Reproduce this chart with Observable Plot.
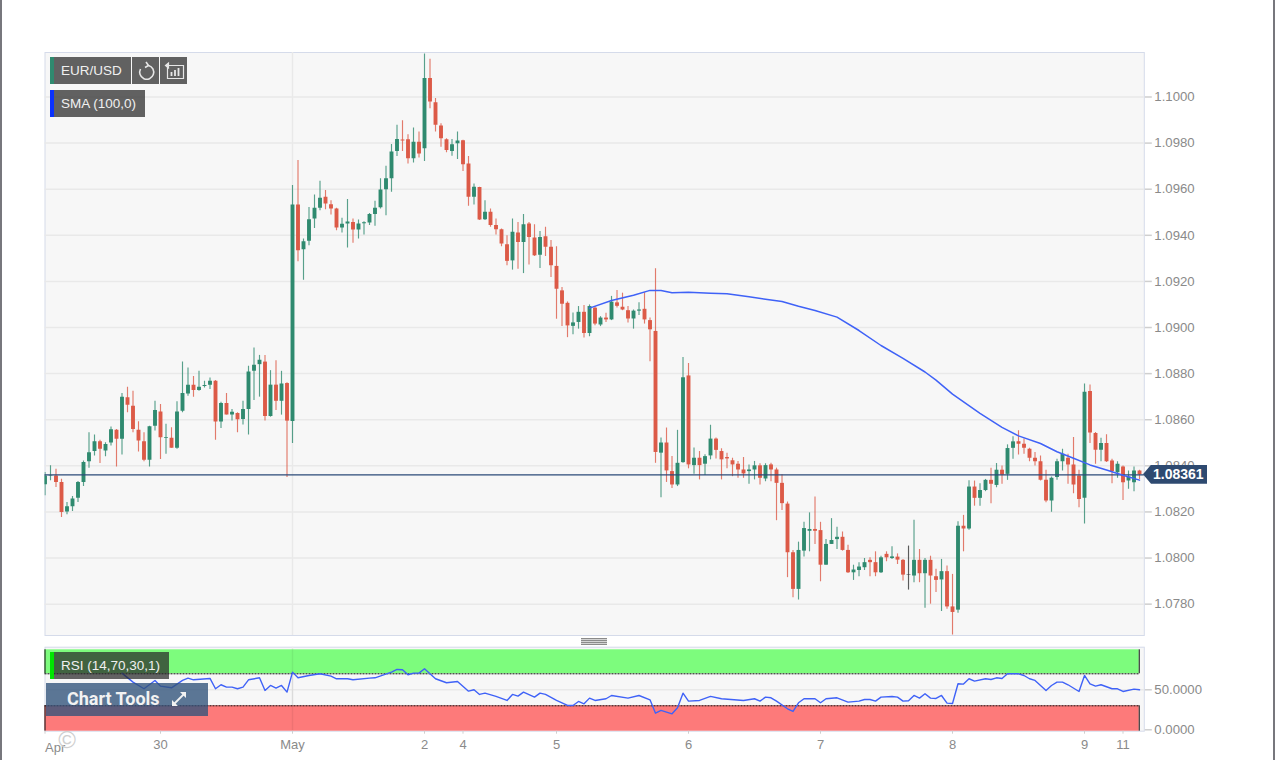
<!DOCTYPE html>
<html>
<head>
<meta charset="utf-8">
<script src="https://cdn.jsdelivr.net/npm/d3@7"></script>
<script src="https://cdn.jsdelivr.net/npm/@observablehq/plot@0.6"></script>
<style>
html,body{margin:0;padding:0;background:#fff;overflow:hidden}
#stage{position:relative;width:1275px;height:760px;font-family:"Liberation Sans",Arial,sans-serif;overflow:hidden}
#stage>div.p{position:absolute;left:0}
.edge{position:absolute;top:0;bottom:0;width:2px;background:#77777d}
.box{position:absolute;color:#f0f0f0;font-size:13.5px;line-height:27px;white-space:nowrap;box-sizing:border-box}
.gray{background:rgba(80,80,80,.9)}
.stripe{position:absolute;width:4px}
svg{display:block}
</style>
</head>
<body>
<div id="stage"></div>
<script>
// Hourly EUR/USD candles, in points of 0.00001
const highs=[108371,108400,108385,108342,108241,108267,108332,108421,108544,108534,
108511,108500,108568,108558,108714,108741,108724,108591,108544,108572,
108680,108666,108580,108565,108678,108850,108824,108788,108810,108767,
108781,108770,108676,108714,108644,108630,108680,108832,108911,108879,
108879,108813,108856,108810,108760,109616,109724,109384,109521,109575,
109635,109594,109550,109517,109474,109555,109471,109466,109459,109495,
109548,109645,109700,109794,109877,109897,109836,109865,109848,110186,
110164,109993,109884,109819,109816,109848,109812,109742,109623,109609,
109550,109514,109471,109427,109398,109471,109456,109490,109456,109446,
109416,109435,109377,109350,109174,109111,109063,109091,109095,109098,
109091,109047,109062,109135,109161,109149,109091,109076,109107,109151,
109041,109255,108521,108564,108440,108554,108870,108844,108477,108462,
108448,108576,108521,108474,108455,108433,108419,108436,108404,108419,
108409,108409,108411,108390,108361,108243,108033,108069,108155,108196,
108265,108155,108080,108171,108134,108113,108056,107969,107980,107998,
108001,108027,108008,108027,108049,108018,107994,108052,108164,108037,
107998,108008,107951,107994,107965,107929,108157,108185,108335,108334,
108322,108341,108389,108410,108399,108491,108526,108552,108516,108476,
108458,108443,108381,108352,108429,108472,108450,108523,108381,108755,
108751,108545,108520,108535,108429,108418,108399,108378,108395,108381];
const lows=[108270,108335,108306,108176,108188,108202,108241,108310,108390,108443,
108410,108439,108486,108395,108447,108630,108544,108460,108418,108395,
108551,108428,108450,108476,108472,108630,108702,108698,108724,108738,
108731,108511,108562,108620,108594,108544,108577,108534,108683,108698,
108594,108611,108640,108620,108349,108497,109285,109205,109355,109430,
109507,109511,109488,109420,109410,109345,109366,109384,109401,109442,
109439,109514,109485,109587,109742,109764,109709,109714,109735,109720,
109949,109848,109782,109758,109743,109729,109677,109526,109532,109464,
109464,109435,109401,109350,109268,109249,109253,109234,109271,109308,
109256,109308,109217,109036,109004,108956,108969,108993,108954,108960,
109008,109004,109022,109030,109085,109073,109020,108993,109052,109015,
108851,108411,108262,108328,108302,108310,108411,108387,108363,108339,
108358,108426,108430,108339,108387,108353,108346,108346,108320,108339,
108317,108331,108331,108162,108206,107915,107828,107818,108004,108027,
108059,107897,107969,108059,108037,108030,107933,107903,107919,107946,
107919,107919,107933,107984,107994,107972,107900,107861,107893,107893,
107782,107800,107850,107768,107778,107666,107761,108027,108121,108225,
108225,108288,108235,108305,108320,108337,108429,108447,108450,108418,
108399,108334,108240,108199,108337,108378,108320,108279,108218,108148,
108497,108407,108418,108414,108322,108346,108250,108298,108288,108341];
const opens=[108318,108354,108356,108328,108200,108223,108259,108328,108418,108462,
108505,108464,108499,108554,108515,108695,108659,108554,108505,108424,
108572,108633,108519,108520,108476,108637,108712,108750,108727,108744,
108750,108767,108590,108670,108620,108627,108601,108644,108810,108839,
108850,108614,108750,108680,108757,108592,109532,109337,109374,109471,
109517,109565,109533,109514,109432,109449,109456,109423,109450,109453,
109490,109519,109598,109645,109764,109813,109814,109732,109804,109775,
110080,109975,109874,109814,109764,109797,109810,109709,109565,109607,
109468,109500,109442,109424,109359,109289,109410,109369,109449,109388,
109314,109394,109348,109265,109159,109105,109005,109022,109066,108974,
109084,109011,109041,109033,109107,109088,109073,109037,109071,109079,
109030,108983,108455,108499,108375,108317,108414,108790,108401,108433,
108407,108443,108516,108462,108436,108422,108407,108382,108375,108382,
108400,108343,108404,108382,108324,108234,108023,107864,108030,108116,
108124,108119,107969,108059,108080,108090,108033,107936,107946,107958,
107990,107980,107936,108016,107998,108004,107990,107927,107922,107990,
107932,107990,107919,107905,107941,107788,107774,108138,108126,108308,
108259,108293,108337,108315,108381,108363,108476,108504,108494,108472,
108433,108418,108337,108247,108349,108418,108433,108404,108356,108259,
108722,108540,108468,108497,108421,108370,108395,108334,108327,108378];
const closes=[108356,108356,108328,108198,108223,108256,108328,108414,108457,108505,
108472,108493,108557,108515,108698,108663,108558,108508,108424,108570,
108640,108522,108522,108476,108633,108714,108750,108727,108741,108748,
108767,108590,108670,108620,108632,108600,108644,108807,108836,108858,
108614,108750,108680,108755,108594,109532,109333,109372,109468,109517,
109561,109536,109514,109432,109448,109458,109423,109449,109455,109490,
109517,109597,109645,109761,109816,109809,109732,109804,109753,110080,
109978,109877,109819,109768,109793,109809,109706,109565,109609,109466,
109500,109442,109424,109362,109287,109413,109369,109446,109391,109311,
109391,109348,109268,109166,109101,109007,109020,109066,108974,109091,
109015,109041,109033,109110,109092,109076,109037,109071,109076,109033,
108990,108458,108499,108378,108317,108411,108782,108404,108433,108401,
108440,108516,108467,108426,108430,108404,108382,108365,108382,108400,
108346,108401,108382,108324,108236,108023,107864,108033,108128,108124,
108116,107969,108059,108076,108090,108033,107936,107948,107961,107980,
107980,107936,108001,108001,108005,107991,107926,107927,107990,107932,
107990,107922,107903,107941,107788,107764,108138,108126,108308,108259,
108293,108337,108320,108381,108360,108475,108504,108494,108476,108433,
108418,108337,108247,108346,108418,108450,108404,108317,108254,108719,
108542,108468,108497,108418,108375,108407,108327,108352,108378,108361];

// SMA (100,0): candle index and value at the vertices
const smaIndex=[99,103,107,110,112,114,117,121,124,128,131,134,137,140,144,148,152,156,160,162,165,170,174,177,181,184,187,190,193,196,199];
const smaValue=[109084,109117,109140,109161,109161,109151,109153,109149,109146,109133,109123,109113,109092,109074,109045,108987,108922,108866,108807,108772,108711,108628,108567,108530,108497,108461,108433,108404,108382,108359,108338];

// RSI (14,70,30,1)
const rsiIndex=[14,16,18,20,21,23,25,26,27,30,31,32,33,34,35,36,37,39,40,41,42,43,44,45,46,48,50,52,53,55,56,59,60,63,64,65,66,67,68,69,71,73,75,77,78,79,80,82,84,85,86,87,89,90,91,93,95,96,97,98,99,100,102,103,106,108,110,111,112,114,115,116,117,119,121,123,127,129,130,131,132,133,135,136,137,138,140,141,142,144,146,148,149,150,151,152,154,155,156,157,158,159,160,161,162,163,164,165,166,167,168,169,171,172,173,174,175,177,178,179,180,182,183,184,185,186,188,189,190,191,192,194,195,196,198,199];
const rsiValue=[70.8,59.6,51.3,61.7,54.6,52.5,61.7,64.6,62.5,64.2,51.3,56.3,53.3,53.3,51.3,53.3,62.5,65,49.2,55.4,52.1,55.4,47.1,72.1,65,67.9,70,67.1,63.8,63.8,62.5,64.6,65,72.1,75.4,75,68.8,70.8,70.8,76.3,63.8,58.8,60.4,48.3,50,44.2,45.8,41.7,36.7,44.2,42.1,47.1,40.8,45.8,44.2,36.7,30.4,30.4,35.4,32.5,39.6,36.7,38.8,42.9,39.6,42.9,37.5,20.8,24.2,20,27.5,45.8,35.8,36.7,41.7,38.8,36.7,38.8,35.8,40.8,40,35.8,26.3,22.9,33.8,38.8,38.8,33.8,38.8,40,34.6,35.8,37.9,37.9,35.8,40.8,41.7,40.8,35.8,36.3,42.9,39.6,45,39.6,39.2,42.9,33.3,32.9,57.5,57.1,63.8,60.8,63.8,62.9,65,64.2,70,70,67.9,63.8,61.7,49.2,55.4,59.6,59.6,56.3,47.9,67.9,57.5,54.6,56.3,51.3,51.3,47.9,50.8,50];

const priceTicks=[1.078,1.08,1.082,1.084,1.086,1.088,1.09,1.092,1.094,1.096,1.098,1.1];
const timeTickIndex=[21,45,69,76,93,117,141,165,189,196];
const timeTickLabel=["30","May","2","4","5","6","7","8","9","11"];
const firstLabel="Apr";
const lastPrice=1.08361;
const upperLevel=70, lowerLevel=30;

const UP="#2f8a6f", DOWN="#dc5a47", FLAT="#333333";
const AXIS="#8a8a8a", TICK="#cfcfcf", GRID="#e9e9e9", BG="#f7f7f7", EDGE="#d5dbea";
const FONT='"Liberation Sans",Arial,sans-serif';

const candles=highs.map((h,i)=>({i,high:h/1e5,low:lows[i]/1e5,open:opens[i]/1e5,close:closes[i]/1e5,
  color:closes[i]>opens[i]?UP:closes[i]<opens[i]?DOWN:FLAT}));
const sma=smaIndex.map((i,k)=>({i,v:smaValue[k]/1e5}));
const rsi=rsiIndex.map((i,k)=>({i,v:rsiValue[k]}));
const xScale={type:"linear",domain:[0,199.87],range:[44.5,1143.8]};

const main=Plot.plot({
  width:1275,height:640,marginTop:52,marginBottom:5,marginLeft:44.5,marginRight:131.2,
  style:{background:"transparent",fontFamily:FONT,fontSize:"13px",overflow:"visible"},
  x:xScale,
  y:{domain:[1.07664,1.10193]},
  marks:[
    Plot.frame({fill:BG,stroke:EDGE}),
    Plot.gridY(priceTicks,{stroke:GRID,strokeOpacity:1,strokeWidth:1.5}),
    Plot.ruleX([45],{stroke:GRID,strokeWidth:1.5}),
    Plot.axisY(priceTicks,{anchor:"right",label:null,tickSize:7,tickPadding:3,stroke:TICK,fill:AXIS,strokeWidth:1.5,tickFormat:d3.format(".4f"),fontSize:13.2}),
    Plot.axisX([],{label:null}),
    Plot.ruleX(candles,{x:"i",y1:"low",y2:"high",stroke:"color",strokeWidth:1.15,strokeOpacity:.8,clip:true}),
    Plot.ruleX(candles,{x:"i",y1:d=>Math.max(d.open,d.close),y2:d=>d.open===d.close?d.close-2e-5:Math.min(d.open,d.close),stroke:"color",strokeWidth:3.9,clip:true}),
    Plot.ruleY([lastPrice],{stroke:"#2b4a78",strokeWidth:1.3}),
    Plot.line(sma,{x:"i",y:"v",stroke:"#3f62f7",strokeWidth:1.5,curve:"linear",clip:true})
  ]
});

const rsiPlot=Plot.plot({
  width:1275,height:120,marginTop:6.7,marginBottom:29.3,marginLeft:44.5,marginRight:131.2,
  style:{background:"transparent",fontFamily:FONT,fontSize:"13px",overflow:"visible"},
  x:xScale,
  y:{domain:[-1.75,103.25]},
  marks:[
    Plot.frame({fill:BG,stroke:EDGE}),
    Plot.gridY([50],{stroke:GRID,strokeOpacity:1,strokeWidth:1.5}),
    Plot.ruleX([45],{stroke:GRID,strokeWidth:1.5}),
    Plot.rect([0],{x1:0,x2:198.95,y1:upperLevel,y2:100,fill:"#7dfc7d"}),
    Plot.rect([0],{x1:0,x2:198.95,y1:-1.75,y2:lowerLevel,fill:"#fd7a7a"}),
    Plot.ruleX([0,198.95],{y1:upperLevel,y2:100,stroke:"#111",strokeWidth:1}),
    Plot.ruleX([0,198.95],{y1:-1.75,y2:lowerLevel,stroke:"#111",strokeWidth:1}),
    Plot.ruleY([upperLevel,lowerLevel],{x1:0,x2:198.95,stroke:"#111",strokeWidth:1,strokeDasharray:"2,1"}),
    Plot.ruleX([45],{y1:-1.75,y2:100,stroke:"#000",strokeOpacity:.06,strokeWidth:1.5}),
    Plot.axisY([0,50],{anchor:"right",label:null,tickSize:7,tickPadding:3,stroke:TICK,fill:AXIS,strokeWidth:1.5,tickFormat:d3.format(".4f"),fontSize:13.2}),
    Plot.axisX([0,...timeTickIndex],{anchor:"bottom",label:null,tickSize:3,tickPadding:6,stroke:TICK,fill:AXIS,fontSize:13,
      tickFormat:i=>{const k=timeTickIndex.indexOf(i);return k<0?"":timeTickLabel[k];}}),
    Plot.text([firstLabel],{x:0,frameAnchor:"bottom",dy:21,textAnchor:"start",fill:AXIS,fontSize:13,text:d=>d}),
    Plot.line(rsi,{x:"i",y:"v",stroke:"#3f62f7",strokeWidth:1.4})
  ]
});

const stage=document.getElementById("stage");
function panel(node,top){const d=document.createElement("div");d.className="p";d.style.top=top+"px";d.appendChild(node);stage.appendChild(d);}
panel(main,0);
panel(rsiPlot,640);

function el(html){const t=document.createElement("template");t.innerHTML=html.trim();const n=t.content.firstChild;stage.appendChild(n);return n;}
const tagY=main.scale("y").apply(lastPrice);
el(`<div class="edge" style="left:0"></div>`);
el(`<div class="edge" style="right:0"></div>`);
// legends
el(`<div class="stripe" style="left:50px;top:57px;height:27px;background:${UP}"></div>`);
el(`<div class="box gray" style="left:54px;top:57px;width:77px;height:27px;padding-left:7px">EUR/USD</div>`);
el(`<div class="box gray" style="left:132px;top:57px;width:27px;height:27px"><svg width="27" height="27" viewBox="0 0 27 27" fill="none" stroke="#e6e6e6" stroke-width="1.6"><path d="M16.500 8.500A7 7 0 1 1 8.500 12"/><path d="M14 5l2.500 3.500-3.500 2" /></svg></div>`);
el(`<div class="box gray" style="left:160px;top:57px;width:27px;height:27px"><svg width="27" height="27" viewBox="0 0 27 27" fill="none" stroke="#e6e6e6" stroke-width="1.2"><path d="M9 8.500h14.500v13h-16v-13"/><path d="M5.500 8.500l3-2.500v5z" fill="#e6e6e6"/><path d="M11.500 19v-4M15 19v-6M18.500 19v-8" stroke-width="1.800"/></svg></div>`);
el(`<div class="stripe" style="left:50px;top:90px;height:27px;background:#0a32ff"></div>`);
el(`<div class="box gray" style="left:54px;top:90px;width:91px;height:27px;padding-left:7px">SMA (100,0)</div>`);
// price tag
el(`<div class="box" style="left:1143px;top:${tagY-9.5}px;width:64px;height:19px;padding-left:10px;line-height:19px;background:#2e4a70;color:#fff;font-weight:700;font-size:14px;clip-path:polygon(0 50%,8px 0,100% 0,100% 100%,8px 100%)">${lastPrice.toFixed(5)}</div>`);
// split handle
el(`<div style="position:absolute;left:581px;top:638px;width:26px;height:7px;background:repeating-linear-gradient(#8b8b8b 0 1px,#d4d4d4 1px 2px)"></div>`);
// RSI legend
el(`<div class="stripe" style="left:50px;top:652px;height:27px;background:#00e600"></div>`);
el(`<div class="box" style="left:54px;top:652px;width:115px;height:27px;padding-left:7px;background:rgba(40,40,40,.72)">RSI (14,70,30,1)</div>`);
// chart tools
el(`<div class="box" style="left:46px;top:683px;width:162px;height:33px;line-height:32px;padding-left:21px;background:rgba(48,82,122,.78);color:#f2f2f2;font-family:Roboto,sans-serif;font-weight:700;font-size:18px">Chart Tools<svg style="position:absolute;left:124px;top:7px" width="18" height="18" viewBox="0 0 18 18" fill="#f2f2f2" stroke="#f2f2f2"><path d="M4 14L14 4" stroke-width="1.8"/><path d="M10 2h6v6zM2 10v6h6z" stroke="none"/></svg></div>`);
// watermark
el(`<div style="position:absolute;left:54px;top:725px;width:26px;height:30px;line-height:30px;text-align:center;font-size:24px;color:#cfcfcf">©</div>`);
</script>
</body>
</html>
